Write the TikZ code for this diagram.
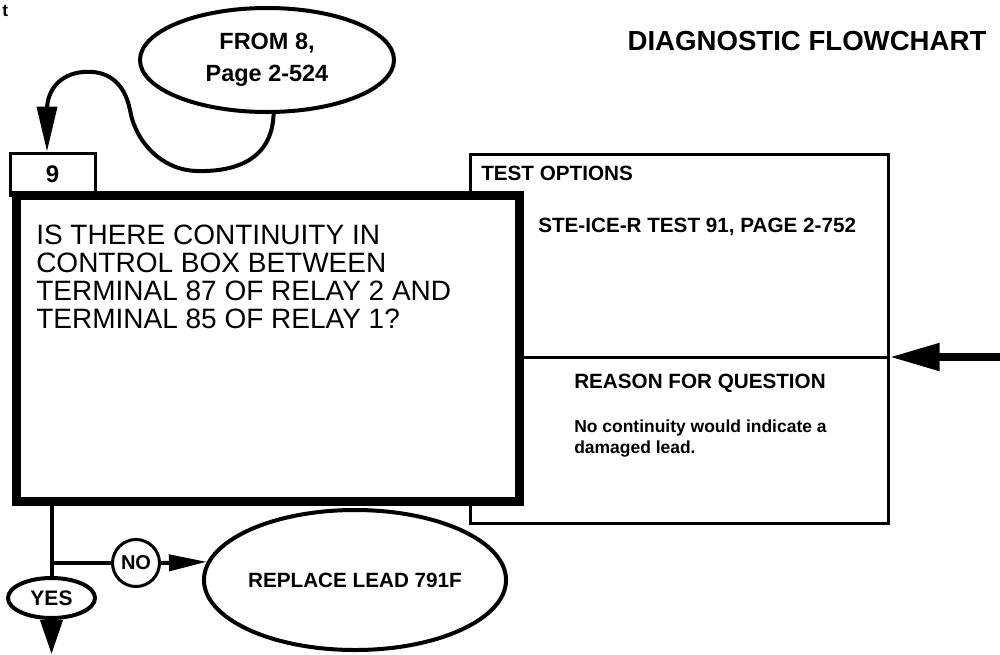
\documentclass[tikz,border=0pt]{standalone}
\usepackage{fontspec}
\setmainfont{Liberation Sans}
\usetikzlibrary{arrows.meta,shapes.geometric}
\begin{document}
\begin{tikzpicture}[x=0.75pt,y=-0.75pt,
  thinbox/.style={draw,line width=2.25pt,fill=white,inner sep=0pt},
  mainbox/.style={draw,line width=6.75pt,fill=white,inner sep=0pt},
  oval/.style={draw,ellipse,line width=3pt,fill=white,inner sep=0pt,align=center},
  lbl/.style={inner sep=0pt},
  conn/.style={line width=3pt},
]
\useasboundingbox (0,0) rectangle (1000,654);
% header
\node[lbl,anchor=base west,font=\bfseries\fontsize{13}{14}\selectfont] (tmark) at (2,16) {t};
\node[lbl,anchor=base,font=\bfseries\fontsize{20.7}{24}\selectfont] (title) at (807,50) {DIAGNOSTIC FLOWCHART};
% entry ellipse
\node[oval,minimum width=190.5pt,minimum height=78pt,font=\bfseries\fontsize{17.6}{24}\selectfont] (from) at (267,60) {FROM 8,\\Page 2-524};
% test options box
\node[thinbox,minimum width=313.5pt,minimum height=276.75pt] (opt) at (679,338.5) {};
% step number box
\node[thinbox,minimum width=63.75pt,minimum height=31.5pt,font=\bfseries\fontsize{18}{20}\selectfont] (nine) at (52.5,174) {9};
% main question box
\node[mainbox,minimum width=377.25pt,minimum height=229.5pt] (q) at (267.5,348) {};
\node[lbl,anchor=north west,align=left,font=\fontsize{21}{21}\selectfont] (qt) at (36,225)
  {IS THERE CONTINUITY IN\\CONTROL BOX BETWEEN\\TERMINAL 87 OF RELAY 2 AND\\TERMINAL 85 OF RELAY 1?};
% test options contents
\node[lbl,anchor=base west,font=\bfseries\fontsize{15.5}{17}\selectfont] (tohead) at (481,180) {TEST OPTIONS};
\node[lbl,anchor=base west,font=\bfseries\fontsize{15.5}{17}\selectfont] (ste) at (538,232) {STE-ICE-R TEST 91, PAGE 2-752};
\coordinate (divl) at (q.east |- 0,357);
\coordinate (divr) at (opt.east |- 0,357);
\draw[line width=2.25pt] (divl) -- (divr);
\node[lbl,anchor=base,font=\bfseries\fontsize{15.5}{17}\selectfont] (reason) at (700,388) {REASON FOR QUESTION};
\node[lbl,anchor=north west,align=left,font=\bfseries\fontsize{13.1}{15.75}\selectfont] (rt) at (574,420)
  {No continuity would indicate a\\damaged lead.};
% incoming arrow
\coordinate (src) at (1000,357);
\draw[line width=6pt,-{Triangle[length=37.5pt,width=19.5pt]}] (src) -- (divr);
% curve from entry ellipse to box 9
\draw[conn,-{Triangle[length=33.75pt,width=15pt]}] (from.277)
  .. controls (272,160) and (235,172) .. (197,171)
  .. controls (160,170) and (135,140) .. (130,110)
  .. controls (124,80) and (105,70) .. (83,72)
  .. controls (60,74) and (47,90) .. (47,110)
  -- (nine.north -| 47,0);
% bottom branch
\node[oval,minimum width=65.25pt,minimum height=30pt,font=\bfseries\fontsize{15.75}{17}\selectfont] (yes) at (51.5,598) {YES};
\node[draw,circle,line width=2.25pt,minimum size=35.25pt,inner sep=0pt,fill=white,font=\bfseries\fontsize{15}{17}\selectfont] (no) at (136,563) {NO};
\node[oval,minimum width=207pt,minimum height=105pt,font=\bfseries\fontsize{15.5}{17}\selectfont] (rep) at (355,580) {REPLACE LEAD 791F};
\draw[conn] (q.south -| yes.north) -- (yes.north);
\draw[conn] (yes.north |- no.west) -- (no.west);
\draw[conn,-{Triangle[length=28.5pt,width=12pt]}] (no.east) -- (rep.173);
\coordinate (down) at (51.5,654);
\draw[conn,-{Triangle[length=25.5pt,width=16.5pt]}] (yes.south) -- (down);
\end{tikzpicture}
\end{document}
